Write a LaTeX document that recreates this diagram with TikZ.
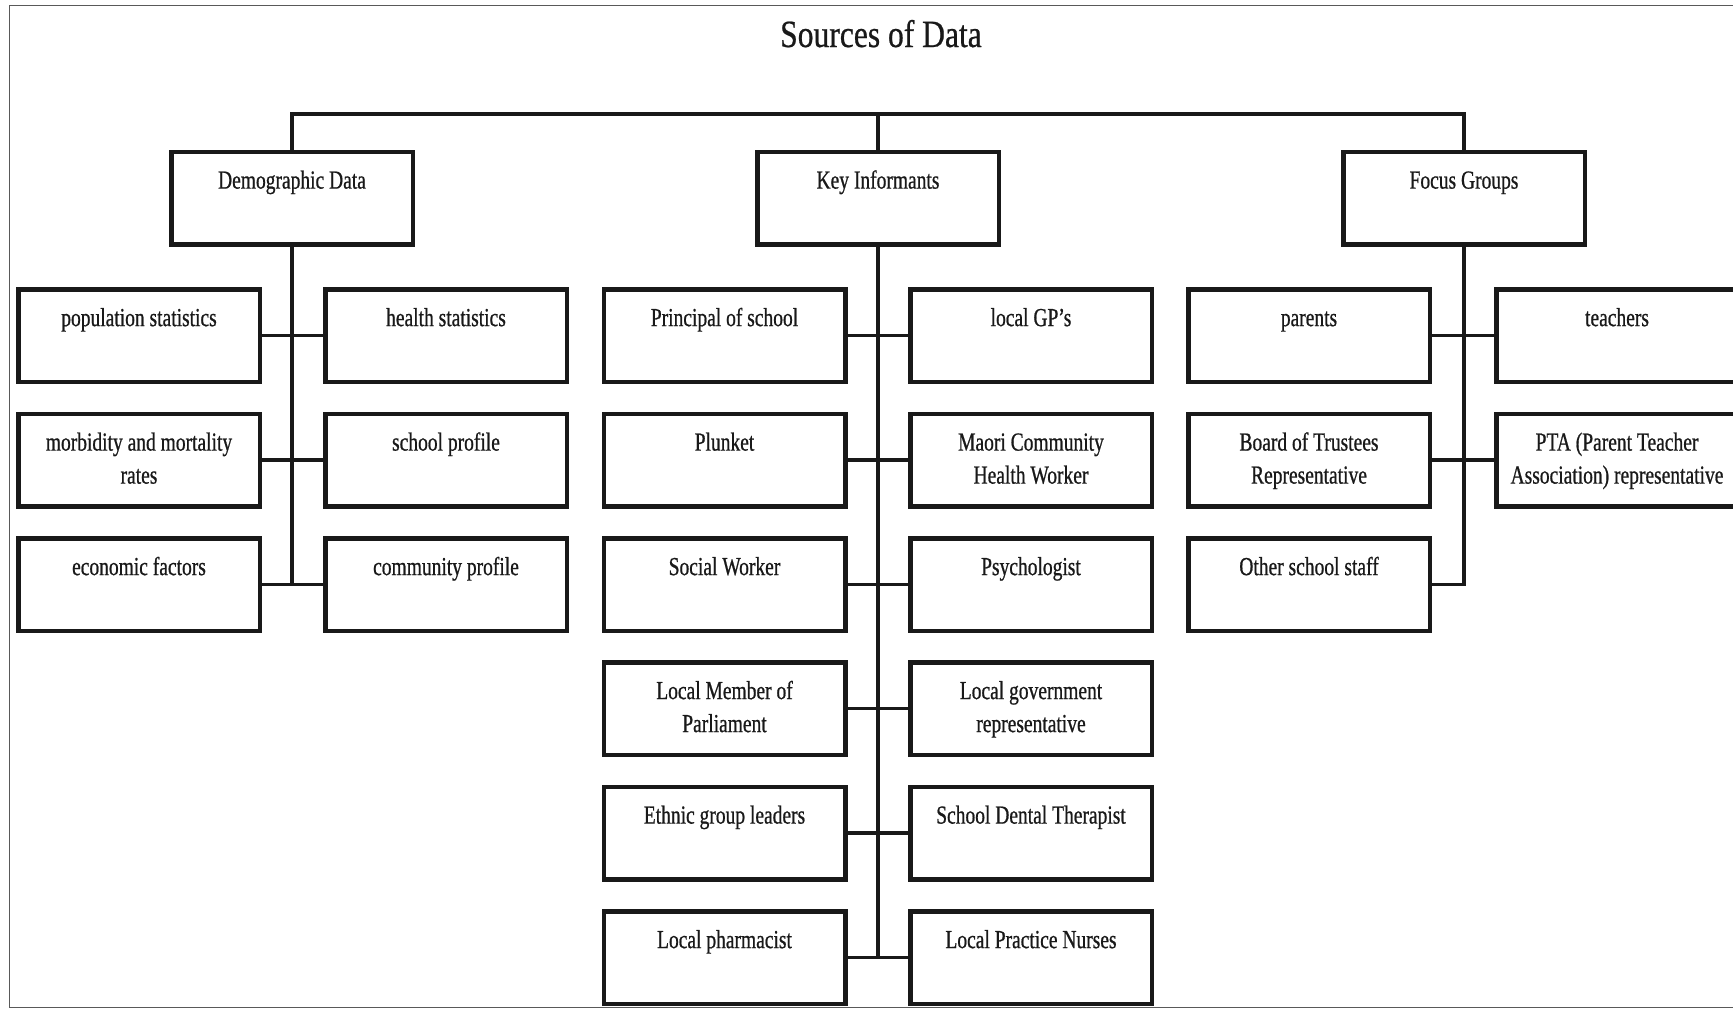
\documentclass[tikz,border=0pt]{standalone}
\usepackage{fontspec}
\setmainfont{Liberation Serif}[FakeStretch=0.75,FakeBold=0.7]
\newfontfamily\titlefont{Liberation Serif}[FakeStretch=0.82,FakeBold=0.6]
\newcommand\mkbox[4]{%
  \node[cbox] (#1) at (#2,#3) {};
  \node[lbl] (#1-t) at ([yshift=32.7pt]#1.center) {#4};}
\begin{document}
\begin{tikzpicture}[x=1pt,y=-1pt,
  cbox/.style={draw=black!90, line width=4.5pt, minimum width=241.5pt,
    minimum height=92.5pt, inner sep=0pt, fill=white},
  lbl/.style={anchor=north, align=center, inner sep=0pt, text=black!90,
    font=\fontsize{26pt}{33pt}\selectfont},
  conn/.style={draw=black!90, line width=3.8pt},
  frame/.style={draw=black!65, line width=1.5pt}]
\useasboundingbox (0,0) rectangle (1733,1009);
\clip (0,0) rectangle (1733,1009);
\draw[frame] (9.5,5.5) rectangle (1760,1007.5);
\node[anchor=base, text=black!90, font=\titlefont\fontsize{38.5pt}{46pt}\selectfont] (title) at (881,47) {Sources of Data};

% level 1
\mkbox{dem}{292}{198}{\strut Demographic Data}
\mkbox{key}{878}{198}{\strut Key Informants}
\mkbox{foc}{1464}{198}{\strut Focus Groups}

% Demographic data children
\mkbox{d1l}{139}{335.5}{\strut population statistics}
\mkbox{d1r}{446}{335.5}{\strut health statistics}
\mkbox{d2l}{139}{460}{\strut morbidity and mortality\\\strut rates}
\mkbox{d2r}{446}{460}{\strut school profile}
\mkbox{d3l}{139}{584.5}{\strut economic factors}
\mkbox{d3r}{446}{584.5}{\strut community profile}

% Key informants children
\mkbox{k1l}{724.5}{335.5}{\strut Principal of school}
\mkbox{k1r}{1031}{335.5}{\strut local GP's}
\mkbox{k2l}{724.5}{460}{\strut Plunket}
\mkbox{k2r}{1031}{460}{\strut Maori Community\\\strut Health Worker}
\mkbox{k3l}{724.5}{584.5}{\strut Social Worker}
\mkbox{k3r}{1031}{584.5}{\strut Psychologist}
\mkbox{k4l}{724.5}{708.5}{\strut Local Member of\\\strut Parliament}
\mkbox{k4r}{1031}{708.5}{\strut Local government\\\strut representative}
\mkbox{k5l}{724.5}{833}{\strut Ethnic group leaders}
\mkbox{k5r}{1031}{833}{\strut School Dental Therapist}
\mkbox{k6l}{724.5}{957.5}{\strut Local pharmacist}
\mkbox{k6r}{1031}{957.5}{\strut Local Practice Nurses}

% Focus groups children
\mkbox{f1l}{1309}{335.5}{\strut parents}
\mkbox{f1r}{1617}{335.5}{\strut teachers}
\mkbox{f2l}{1309}{460}{\strut Board of Trustees\\\strut Representative}
\mkbox{f2r}{1617}{460}{\strut PTA (Parent Teacher\\\strut Association) representative}
\mkbox{f3l}{1309}{584.5}{\strut Other school staff}

% connectors
\coordinate (top) at (878,114);
\draw[conn] (dem.north) -- (dem.north |- top) -- (foc.north |- top) -- (foc.north);
\draw[conn] (top) -- (key.north);

\draw[conn] (dem.south) -- (dem.south |- d3l.center);
\draw[conn] (d1l.east) -- (d1r.west);
\draw[conn] (d2l.east) -- (d2r.west);
\draw[conn] (d3l.east) -- (d3r.west);

\draw[conn] (key.south) -- (key.south |- k6l.center);
\draw[conn] (k1l.east) -- (k1r.west);
\draw[conn] (k2l.east) -- (k2r.west);
\draw[conn] (k3l.east) -- (k3r.west);
\draw[conn] (k4l.east) -- (k4r.west);
\draw[conn] (k5l.east) -- (k5r.west);
\draw[conn] (k6l.east) -- (k6r.west);

\draw[conn] (foc.south) -- (foc.south |- f3l.center) -- (f3l.east);
\draw[conn] (f1l.east) -- (f1r.west);
\draw[conn] (f2l.east) -- (f2r.west);
\end{tikzpicture}
\end{document}
